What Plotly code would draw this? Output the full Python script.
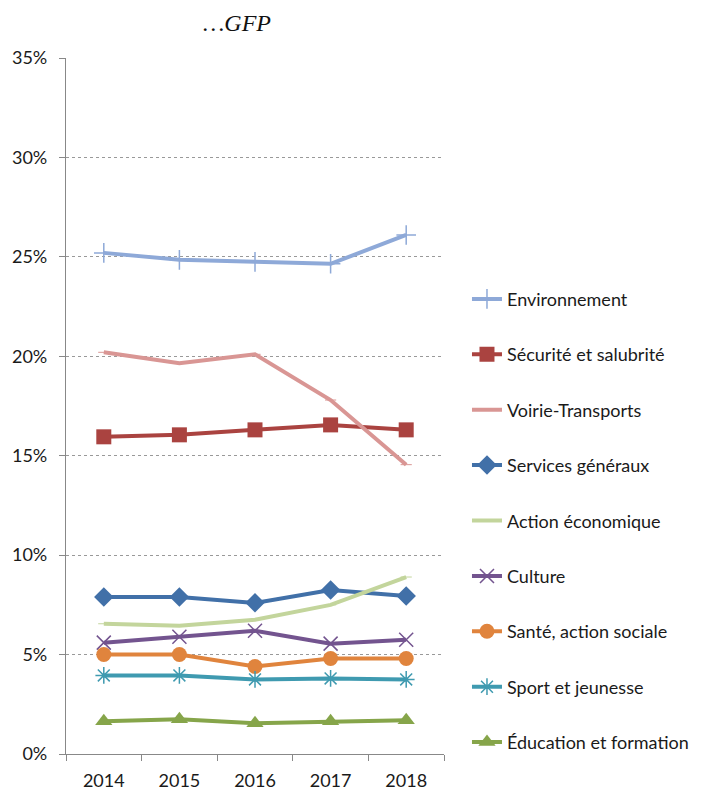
import plotly.graph_objects as go

years = ["2014", "2015", "2016", "2017", "2018"]

environnement = [25.2, 24.85, 24.75, 24.65, 26.1]
securite = [15.95, 16.05, 16.3, 16.55, 16.3]
voirie = [20.2, 19.65, 20.1, 17.8, 14.55]
services = [7.9, 7.9, 7.6, 8.25, 7.95]
action_eco = [6.55, 6.45, 6.75, 7.5, 8.9]
culture = [5.6, 5.9, 6.2, 5.55, 5.75]
sante = [5.0, 5.0, 4.4, 4.8, 4.8]
sport = [3.95, 3.95, 3.75, 3.8, 3.75]
education = [1.65, 1.75, 1.55, 1.65, 1.7]

series = [
    ("Environnement", environnement, "#8EA9D8", "cross-thin", 14, 1.5),
    ("Sécurité et salubrité", securite, "#AA4340", "square", 15, 0),
    ("Voirie-Transports", voirie, "#D99694", "line-ew", 8, 1),
    ("Services généraux", services, "#4170A8", "diamond", 15, 0),
    ("Action économique", action_eco, "#C3D59C", "line-ew", 8, 1),
    ("Culture", culture, "#73548F", "x-thin", 14, 1.5),
    ("Santé, action sociale", sante, "#E0843D", "circle", 15, 0),
    ("Sport et jeunesse", sport, "#3F9AB0", "asterisk", 14, 1.5),
    ("Éducation et formation", education, "#86A54A", "triangle-up", 15, 0),
]

fig = go.Figure()
for i, (name, vals, color, symbol, size, lw) in enumerate(series):
    fig.add_trace(go.Scatter(
        x=years, y=vals, name=name, mode="lines+markers",
        legendgroup=f"g{i}",
        line=dict(color=color, width=4),
        marker=dict(symbol=symbol, size=size, color=color,
                    line=dict(color=color, width=lw)),
    ))

fig.update_layout(
    width=705, height=790,
    margin=dict(l=66, r=260, t=58, b=36),
    paper_bgcolor="white", plot_bgcolor="white",
    font=dict(family="Lato, Open Sans, sans-serif", size=18, color="#1a1a1a"),
    title=dict(text="<i>…GFP</i>", x=237 / 705, xanchor="center",
               y=1 - 23 / 790, yanchor="middle",
               font=dict(family="Liberation Serif, DejaVu Serif, serif", size=24, color="#111")),
    showlegend=True,
    legend=dict(x=1.058, xanchor="left", y=0.680, yanchor="top",
                tracegroupgap=29, font=dict(size=18),
                bgcolor="rgba(0,0,0,0)"),
    xaxis=dict(type="category", range=[-0.5, 4.5], showgrid=False,
               showline=True, linecolor="#888", linewidth=1.3,
               ticks="outside", tickson="boundaries", ticklen=6, tickcolor="#888",
               ticklabelstandoff=10, automargin=False, tickfont=dict(size=18)),
    yaxis=dict(range=[0, 35], dtick=5, ticksuffix="%",
               showgrid=True, gridcolor="#999", griddash="dot", gridwidth=1,
               showline=True, linecolor="#888", linewidth=1.3,
               ticks="outside", ticklen=6, tickcolor="#888",
               ticklabelstandoff=8, automargin=False,
               zeroline=False, tickfont=dict(size=18)),
)

fig.write_html("out.html")
